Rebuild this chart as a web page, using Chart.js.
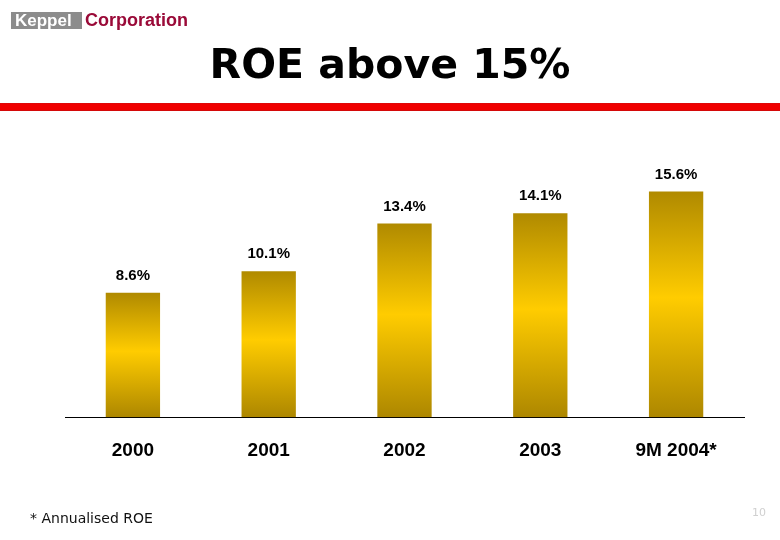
<!DOCTYPE html>
<html>
<head>
<meta charset="utf-8">
<script src="https://cdn.jsdelivr.net/npm/chart.js@4.4.1/dist/chart.umd.min.js"></script>
<style>
  body { margin: 0; background: #fff; }
  #wrap { position: relative; width: 780px; height: 540px; overflow: hidden; }
  #mycanvas { position: absolute; left: 0; top: 0; }
  .logo { position: absolute; left: 11px; top: 12px; font-family: "Liberation Sans", Arial, sans-serif; font-weight: bold; white-space: nowrap; }
  .logo .k { display: inline-block; background: #8c8c8c; color: #fff; font-size: 17px; line-height: 17px; padding: 0 4px; width: 63px; }
  .logo .c { color: #9a0a38; font-size: 18px; line-height: 17px; margin-left: 3px; }
  .title { position: absolute; left: 0; width: 780px; top: 42px; text-align: center;
    font-family: "DejaVu Sans", Verdana, sans-serif; font-weight: bold; font-size: 41px; line-height: 44px; color: #000; }
  .redline { position: absolute; left: 0; top: 103px; width: 780px; height: 8px;
    background: linear-gradient(#d01010 0, #f00000 15%, #f00000 85%, #c01010 100%); }
  .note { position: absolute; left: 30px; top: 510px; font-family: "DejaVu Sans", Verdana, sans-serif; font-size: 14px; color: #111; }
  .page { position: absolute; left: 752px; top: 506px; font-family: "DejaVu Sans", Verdana, sans-serif; font-size: 11px; color: #d0d0d0; }
</style>
</head>
<body>
<div id="wrap">
  <canvas id="mycanvas" width="780" height="540"></canvas>
  <div class="logo"><span class="k">Keppel</span><span class="c">Corporation</span></div>
  <div class="title">ROE above 15%</div>
  <div class="redline"></div>
  <div class="note">* Annualised ROE</div>
  <div class="page">10</div>
</div>
<script>
var years = ["2000", "2001", "2002", "2003", "9M 2004*"];
var roe = [8.6, 10.1, 13.4, 14.1, 15.6];
var roeLabels = ["8.6%", "10.1%", "13.4%", "14.1%", "15.6%"];

// gold gradient per bar, dark at the ends, bright in the middle
function barFill(c) {
	var chart = c.chart;
	if (!chart.chartArea || c.type !== 'data') {
		return "#ffcc00";
	}
	var yScale = chart.scales.y;
	var top = yScale.getPixelForValue(roe[c.dataIndex]);
	var bottom = yScale.getPixelForValue(0);
	var g = chart.ctx.createLinearGradient(0, top, 0, bottom);
	g.addColorStop(0, "#b08a00");
	g.addColorStop(0.47, "#ffcc00");
	g.addColorStop(1, "#ad8700");
	return g;
}

var valueLabels = {
	id: 'valueLabels',
	afterDatasetsDraw: function(chart) {
		var ctx = chart.ctx;
		var meta = chart.getDatasetMeta(0);
		ctx.save();
		ctx.fillStyle = "#000";
		ctx.font = "bold 15px 'Liberation Sans', Arial, sans-serif";
		ctx.textAlign = "center";
		ctx.textBaseline = "middle";
		for (var i in meta.data) {
			var bar = meta.data[i];
			ctx.fillText(roeLabels[i], bar.x, bar.y - 17);
		}
		ctx.restore();
	}
};

var chartdata = {
	labels: years,
	datasets: [
		{
			label: "ROE",
			data: roe,
			backgroundColor: barFill,
			borderWidth: 0,
			categoryPercentage: 1,
			barPercentage: 0.4
		}
	]
};

var ctx = document.getElementById("mycanvas");

var roeChart = new Chart(ctx, {
	type: 'bar',
	data: chartdata,
	plugins: [valueLabels],
	options: {
		responsive: false,
		animation: false,
		layout: {
			padding: { left: 65, right: 36, top: 128, bottom: 64 }
		},
		plugins: {
			legend: { display: false },
			tooltip: { enabled: false },
			title: { display: false }
		},
		scales: {
			x: {
				grid: { display: false },
				border: { display: true, color: "#000", width: 1 },
				ticks: {
					color: "#000",
					padding: 14,
					font: { family: "'Liberation Sans', Arial, sans-serif", size: 19, weight: "bold" }
				}
			},
			y: {
				display: false,
				min: 0,
				max: 20
			}
		}
	}
});
</script>
</body>
</html>
